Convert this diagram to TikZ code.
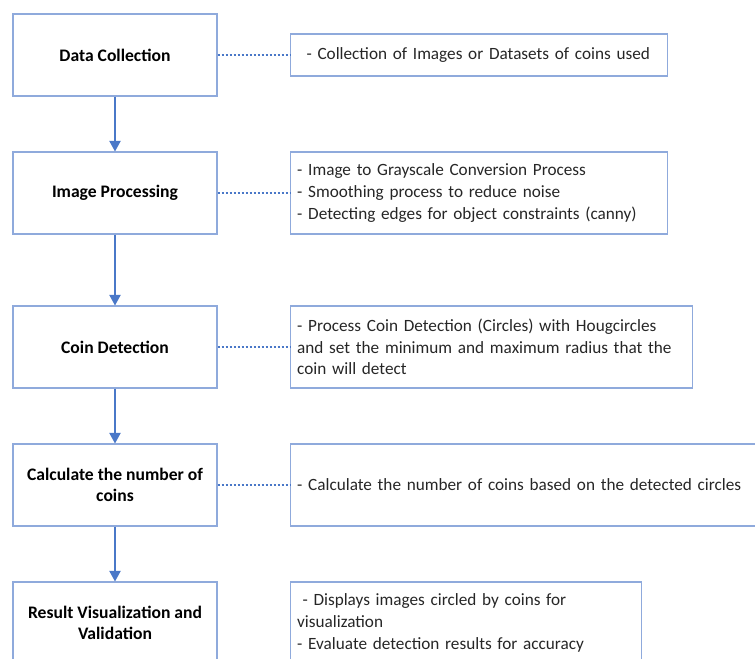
\documentclass[tikz,border=0pt]{standalone}
\usepackage{fontspec}
\setmainfont{Carlito}
\usetikzlibrary{arrows.meta}
\definecolor{boxline}{HTML}{8FAADC}
\definecolor{linkblue}{HTML}{4A78C8}

\begin{document}
\begin{tikzpicture}[x=0.75pt, y=-0.75pt,
		stepbox/.style={shape=rectangle, draw=boxline, line width=0.8pt, minimum width=153pt, minimum height=61.5pt, inner sep=0pt, align=center, font=\fontsize{13.2}{15.8}\selectfont\bfseries},
		notebox/.style={shape=rectangle, draw=boxline, line width=0.8pt, anchor=west, align=left, inner xsep=5pt, inner ysep=0pt, text=black!85, font=\fontsize{12.9}{16.3}\selectfont},
		flow/.style={draw=linkblue, line width=1.1pt, -{Triangle[length=8pt, width=8.5pt, color=linkblue, fill=linkblue]}},
		link/.style={draw=linkblue, line width=1.1pt, dash pattern=on 1.6pt off 1.4pt}]
	\useasboundingbox (0,0) rectangle (755,658);
	
			\node[stepbox] (collect) at (115,55) {Data Collection};
			\node[stepbox] (process) at (115,193) {Image Processing};
			\node[stepbox] (detect) at (115,347) {Coin Detection};
			\node[stepbox] (count) at (115,485) {Calculate the number of\\coins};
			\node[stepbox] (result) at (115,623) {Result Visualization and\\Validation};
			
			\node[notebox, text width=272.75pt, minimum height=31.5pt] (collectnote) at (290,55) {\hspace{7pt}- Collection of Images or Datasets of coins used};
			\node[notebox, text width=272.75pt, minimum height=61.5pt] (processnote) at (290,193) {- Image to Grayscale Conversion Process\\- Smoothing process to reduce noise\\- Detecting edges for object constraints (canny)};
			\node[notebox, text width=291.5pt, minimum height=61.5pt] (detectnote) at (290,347) {- Process Coin Detection (Circles) with Hougcircles\\and set the minimum and maximum radius that the\\coin will detect};
			\node[notebox, text width=350pt, minimum height=61.5pt] (countnote) at (290,485) {- Calculate the number of coins based on the detected circles};
			\node[notebox, text width=253.25pt, minimum height=61.5pt] (resultnote) at (290,623) {\hspace{4pt}- Displays images circled by coins for\\visualization\\- Evaluate detection results for accuracy};
			
			\draw [flow] (collect) -- (process);
			\draw [flow] (process) -- (detect);
			\draw [flow] (detect) -- (count);
			\draw [flow] (count) -- (result);
			
			\draw [link] (collect) -- (collectnote);
			\draw [link] (process) -- (processnote);
			\draw [link] (detect) -- (detectnote);
			\draw [link] (count) -- (countnote);
		\end{tikzpicture}
\end{document}
